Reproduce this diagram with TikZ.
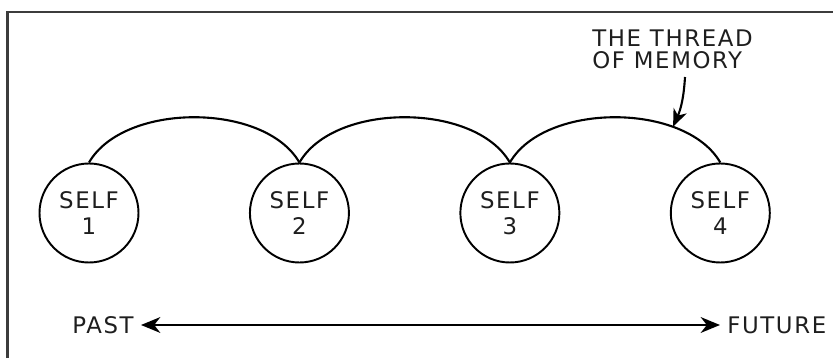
\documentclass[tikz,border=0pt]{standalone}
\usepackage{fontspec}
\usepackage{tikz}
\usetikzlibrary{positioning,arrows.meta}
\newfontfamily\handfont[LetterSpace=7]{DejaVu Sans}
\definecolor{framegray}{RGB}{60,60,60}
\definecolor{inkgray}{RGB}{30,30,30}

\begin{document}
\begin{tikzpicture}[
					node distance=2.19cm,
					% the four selves
					selfnode/.style={
						circle, draw, line width=1.1pt,
						inner sep=0pt, minimum size=1.98cm,
						align=center, text=inkgray,
						font=\handfont\fontsize{13}{14.8}\selectfont
					},
					% arcs joining one self to the next
					thread/.style={line width=1.2pt},
					handtext/.style={text=inkgray, font=\handfont\fontsize{13}{12.5}\selectfont},
					tip/.style={-{Stealth[length=10pt,width=8pt,inset=3pt]}}
					]
					\useasboundingbox (0,0) rectangle (16.66,7.16);
					
					% Frame (top and left edges)
					\draw[framegray, line width=1.2pt] (0.15,0) -- (0.15,6.92) -- (16.66,6.92);
					
					% Selves
					\node[selfnode] (s1) at (1.78,2.90) {SELF\\1};
					\node[selfnode, right=of s1] (s2) {SELF\\2};
					\node[selfnode, right=of s2] (s3) {SELF\\3};
					\node[selfnode, right=of s3] (s4) {SELF\\4};
					
					% Thread of memory
					\draw[thread] (s1.north) to[out=60, in=120, looseness=0.85] (s2.north);
					\draw[thread] (s2.north) to[out=60, in=120, looseness=0.85] (s3.north);
					\draw[thread] (s3.north) to[out=60, in=120, looseness=0.85]
						coordinate[pos=0.73] (onthread) (s4.north);
					
					\node[handtext, align=left, anchor=west, inner sep=0pt] (memory) at (11.84,6.18) {THE THREAD\\OF MEMORY};
					\coordinate (ptr) at (13.7,5.62);
					\draw[thread, tip] (ptr) to[bend left=10] (onthread);
					
					% Time line
					\node[handtext, anchor=east, inner sep=4pt] (past) at (2.82,0.66) {PAST};
					\node[handtext, anchor=west, inner sep=4pt] (future) at (14.40,0.66) {FUTURE};
					\draw[thread, {Stealth[length=11pt,width=9pt,inset=3.5pt]}-{Stealth[length=11pt,width=9pt,inset=3.5pt]}] (past) -- (future);
					
				\end{tikzpicture}
\end{document}
